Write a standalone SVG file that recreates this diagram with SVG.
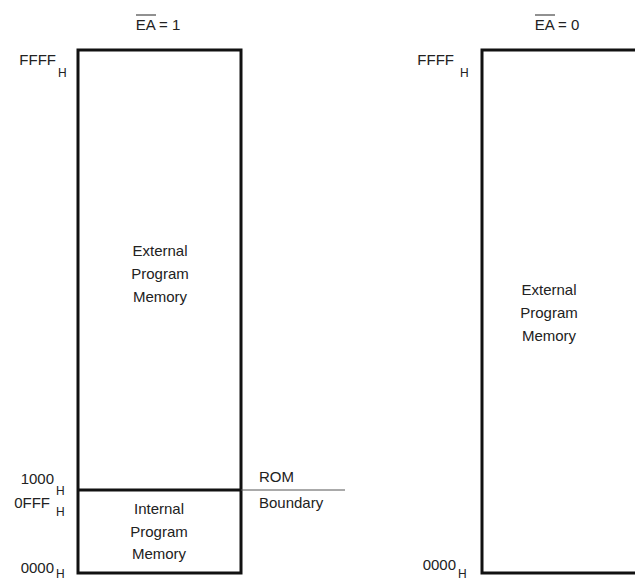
<svg xmlns="http://www.w3.org/2000/svg" width="635" height="581" viewBox="0 0 635 581">
<style>
.t{font-family:"Liberation Sans",Arial,sans-serif;font-size:15px;fill:#222}
.s{font-size:12px}
.c{text-anchor:middle}
.e{text-anchor:end}
.box{fill:none;stroke:#111;stroke-width:3}
.ov{stroke:#222;stroke-width:1}
</style>
<rect width="635" height="581" fill="#fff"/>
<g id="map-ea1">
<text class="t c" x="158" y="30">EA = 1</text>
<line class="ov" x1="136" y1="15" x2="156" y2="15"/>
<rect class="box" x="78" y="50" width="163" height="523"/>
<line x1="78" y1="490" x2="241" y2="490" stroke="#111" stroke-width="3"/>
<text class="t e" x="56" y="65">FFFF</text><text class="t s" x="58" y="77">H</text>
<text class="t c" x="160" y="256">External</text>
<text class="t c" x="160" y="279">Program</text>
<text class="t c" x="160" y="302">Memory</text>
<text class="t e" x="54" y="484">1000</text><text class="t s" x="56" y="495">H</text>
<text class="t e" x="50" y="508">0FFF</text><text class="t s" x="56" y="516">H</text>
<text class="t c" x="159" y="514">Internal</text>
<text class="t c" x="159" y="537">Program</text>
<text class="t c" x="159" y="559">Memory</text>
<text class="t e" x="54" y="573">0000</text><text class="t s" x="56" y="578">H</text>
</g>
<g id="rom-boundary">
<line x1="241" y1="490" x2="345" y2="490" stroke="#555" stroke-width="1"/>
<text class="t" x="259" y="482">ROM</text>
<text class="t" x="259" y="508">Boundary</text>
</g>
<g id="map-ea0">
<text class="t c" x="557" y="30">EA = 0</text>
<line class="ov" x1="535" y1="15" x2="555" y2="15"/>
<rect class="box" x="482" y="50" width="170" height="523"/>
<text class="t e" x="454" y="65">FFFF</text><text class="t s" x="460" y="77">H</text>
<text class="t c" x="549" y="295">External</text>
<text class="t c" x="549" y="318">Program</text>
<text class="t c" x="549" y="341">Memory</text>
<text class="t e" x="456" y="570">0000</text><text class="t s" x="458" y="578">H</text>
</g>
</svg>
